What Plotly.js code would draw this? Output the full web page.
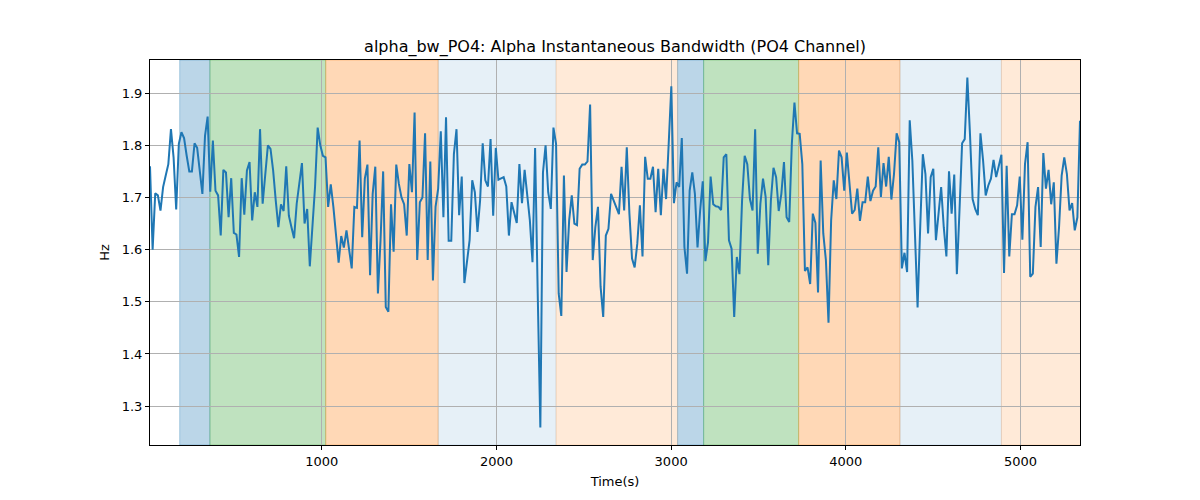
<!DOCTYPE html>
<html>
<head>
<meta charset="utf-8">
<script src="https://cdn.plot.ly/plotly-3.0.1.min.js"></script>
<style>
  body { margin: 0; background: #fff; }
  #chart { width: 1200px; height: 500px; }
</style>
</head>
<body>
<div id="chart"></div>
<script>
// sampling of the bandwidth estimate (seconds)
var startTime = 16;
var stepTime = 15;

// alpha bandwidth on PO4
var bandwidth = [
  1.76, 1.60, 1.708, 1.704, 1.675, 1.72, 1.742, 1.764, 1.831, 1.777, 1.677, 1.803, 1.825, 1.814, 1.78, 1.75,
  1.75, 1.804, 1.795, 1.752, 1.707, 1.818, 1.855, 1.711, 1.809, 1.713, 1.704, 1.627, 1.753, 1.748, 1.662, 1.737,
  1.632, 1.629, 1.586, 1.737, 1.667, 1.752, 1.768, 1.656, 1.710, 1.682, 1.831, 1.688, 1.74, 1.80,

  1.793, 1.752, 1.694, 1.643, 1.687, 1.674, 1.76, 1.665, 1.643, 1.622, 1.688, 1.726, 1.766, 1.65, 1.678, 1.568,
  1.643, 1.72, 1.834, 1.80, 1.78, 1.777, 1.682, 1.725, 1.682, 1.631, 1.575, 1.626, 1.604, 1.637, 1.602, 1.564,
  1.682, 1.68, 1.809, 1.624, 1.736, 1.763, 1.551, 1.707, 1.759, 1.516, 1.618, 1.75,

  1.49, 1.481, 1.687, 1.596, 1.763, 1.726, 1.70, 1.687, 1.627, 1.764, 1.71, 1.863, 1.58, 1.691, 1.70, 1.823,
  1.58, 1.769, 1.541, 1.682, 1.717, 1.827, 1.662, 1.854, 1.617, 1.617, 1.783, 1.831, 1.666, 1.74, 1.536, 1.573,
  1.618, 1.733, 1.71, 1.634, 1.694, 1.804, 1.733, 1.721, 1.812, 1.665, 1.795, 1.734, 1.736,

  1.739, 1.721, 1.627, 1.691, 1.672, 1.651, 1.764, 1.689, 1.753, 1.707, 1.656, 1.576, 1.795, 1.516, 1.259, 1.748,
  1.80, 1.71, 1.678, 1.834, 1.803, 1.516, 1.473, 1.742, 1.557, 1.656, 1.704, 1.65, 1.647, 1.755, 1.763, 1.763,
  1.769, 1.878, 1.58, 1.643, 1.682, 1.529, 1.471, 1.627, 1.64, 1.707, 1.694, 1.683, 1.668,

  1.759, 1.675, 1.796, 1.669, 1.583, 1.566, 1.611, 1.685, 1.587, 1.778, 1.736, 1.736, 1.759, 1.672, 1.755, 1.666,
  1.755, 1.697, 1.803, 1.913, 1.689, 1.729, 1.72, 1.814, 1.605, 1.554, 1.713, 1.748, 1.707, 1.604, 1.675, 1.731,
  1.578, 1.614, 1.74, 1.687, 1.683, 1.682, 1.676, 1.777, 1.783, 1.618, 1.602, 1.471,

  1.586, 1.553, 1.694, 1.78, 1.764, 1.697, 1.675, 1.831, 1.592, 1.688, 1.736, 1.701, 1.57, 1.694, 1.757, 1.739,
  1.674, 1.707, 1.768, 1.662, 1.653, 1.803, 1.882, 1.823, 1.822, 1.764, 1.559, 1.566, 1.534, 1.669, 1.651, 1.518,
  1.771, 1.631, 1.58, 1.46, 1.656, 1.733, 1.697, 1.79, 1.777, 1.713, 1.786, 1.726, 1.669,

  1.676, 1.717, 1.655, 1.691, 1.691, 1.74, 1.693, 1.713, 1.721, 1.796, 1.701, 1.766, 1.721, 1.778, 1.696, 1.745,
  1.823, 1.806, 1.564, 1.594, 1.557, 1.848, 1.771, 1.611, 1.489, 1.643, 1.783, 1.745, 1.631, 1.739, 1.755, 1.618,
  1.675, 1.72, 1.643, 1.587, 1.75, 1.669, 1.744, 1.553, 1.675, 1.804, 1.812, 1.93,

  1.822, 1.697, 1.678, 1.666, 1.823, 1.771, 1.704, 1.723, 1.736, 1.772, 1.739, 1.758, 1.782, 1.555, 1.761, 1.587,
  1.668, 1.668, 1.685, 1.74, 1.619, 1.764, 1.806, 1.548, 1.554, 1.682, 1.72, 1.605, 1.785, 1.717, 1.753, 1.687,
  1.729, 1.573, 1.643, 1.742, 1.777, 1.745, 1.675, 1.689, 1.637, 1.662, 1.847
];

// shaded stage segments (start, end in seconds) and their kind
var segStart = [186, 359, 1022, 1666, 2341, 3037, 3186, 3730, 4310, 4891];
var segEnd   = [359, 1022, 1666, 2341, 3037, 3186, 3730, 4310, 4891, 5400];
var segKind  = ['blue', 'green', 'orange', 'lightblue', 'lightorange',
                'blue', 'green', 'orange', 'lightblue', 'lightorange'];

var kindColor = {
  blue: 'rgba(31,119,180,0.3)',
  green: 'rgba(44,160,44,0.3)',
  orange: 'rgba(255,127,14,0.3)',
  lightblue: 'rgba(31,119,180,0.11)',
  lightorange: 'rgba(255,127,14,0.16)'
};

var times = [];
for (var i = 0; i < bandwidth.length; i++) {
  times.push(startTime + i * stepTime);
}

var shapes = [];
for (var k = 0; k < segStart.length; k++) {
  shapes.push({
    type: 'rect', xref: 'x', yref: 'paper',
    x0: segStart[k], x1: segEnd[k], y0: 0, y1: 1,
    fillcolor: kindColor[segKind[k]],
    line: { width: 1, color: kindColor[segKind[k]] },
    layer: 'below'
  });
}

var data = [{
  type: 'scatter',
  mode: 'lines',
  x: times,
  y: bandwidth,
  line: { color: '#1f77b4', width: 2 },
  hoverinfo: 'x+y'
}];

var axisFont = { family: 'DejaVu Sans, sans-serif', size: 13, color: '#000' };

var layout = {
  width: 1200,
  height: 500,
  margin: { t: 60, b: 55, l: 150, r: 120 },
  paper_bgcolor: '#fff',
  plot_bgcolor: '#fff',
  showlegend: false,
  font: axisFont,
  title: {
    text: 'alpha_bw_PO4: Alpha Instantaneous Bandwidth (PO4 Channel)',
    font: { family: 'DejaVu Sans, sans-serif', size: 16, color: '#000' },
    x: 0.5125, xanchor: 'center',
    yref: 'container', y: 0.908, yanchor: 'middle'
  },
  xaxis: {
    range: [times[0], times[times.length - 1]],
    tickvals: [1000, 2000, 3000, 4000, 5000],
    ticks: 'outside', ticklen: 4, tickcolor: '#000',
    showgrid: true, gridcolor: '#b0b0b0', gridwidth: 1,
    showline: true, linecolor: '#000', linewidth: 1, mirror: true,
    zeroline: false,
    tickfont: axisFont,
    title: { text: 'Time(s)', font: axisFont, standoff: 9 }
  },
  yaxis: {
    range: [1.2254, 1.9636],
    tickvals: [1.3, 1.4, 1.5, 1.6, 1.7, 1.8, 1.9],
    tickformat: '.1f',
    ticks: 'outside', ticklen: 4, tickcolor: '#000',
    showgrid: true, gridcolor: '#b0b0b0', gridwidth: 1,
    showline: true, linecolor: '#000', linewidth: 1, mirror: true,
    zeroline: false,
    tickfont: axisFont,
    title: { text: 'Hz', font: axisFont, standoff: 9 }
  },
  shapes: shapes
};

Plotly.newPlot('chart', data, layout, { displayModeBar: false, staticPlot: true });
</script>
</body>
</html>
